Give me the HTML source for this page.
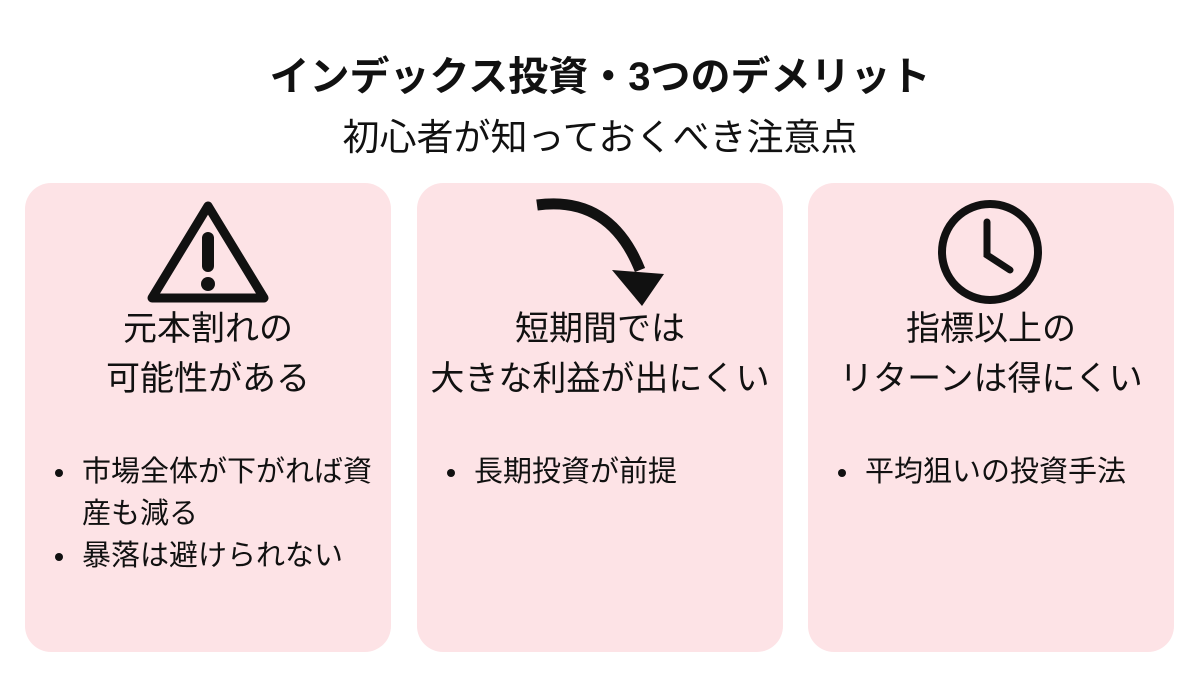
<!DOCTYPE html>
<html><head><meta charset="utf-8"><style>
body{margin:0;width:1200px;height:675px;background:#fff;font-family:"Liberation Sans","Noto Sans CJK JP",sans-serif;color:#111;position:relative;overflow:hidden}
.t{position:absolute;left:0;width:1200px;text-align:center}
.card{position:absolute;top:183px;width:366px;height:469px;background:#fde3e6;border-radius:26px}
.h{position:absolute;top:304px;width:366px;text-align:center;font-size:34px;line-height:50px}
ul{position:absolute;margin:0;padding-left:28px;font-size:29px;line-height:42px}
li{padding-left:4px}
</style></head><body>
<div class="t" style="top:44px;font-size:40px;font-weight:bold">インデックス投資・3つのデメリット</div>
<div class="t" style="top:107px;font-size:37px">初心者が知っておくべき注意点</div>
<div class="card" style="left:25px"></div>
<div class="card" style="left:417px"></div>
<div class="card" style="left:808px"></div>
<svg width="1200" height="675" style="position:absolute;left:0;top:0">
<path d="M208 206 L264 298 L152 298 Z" fill="none" stroke="#111" stroke-width="9" stroke-linejoin="round"/>
<rect x="202" y="232" width="12" height="40" rx="6" fill="#111"/>
<circle cx="208" cy="284" r="7" fill="#111"/>
<path d="M537 205 Q610 195 640 270" fill="none" stroke="#111" stroke-width="11"/>
<path d="M612 270 L664 274 L642 306 Z" fill="#111"/>
<circle cx="990" cy="252" r="48" fill="none" stroke="#111" stroke-width="8"/>
<path d="M987 222 L987 255 L1010 270" fill="none" stroke="#111" stroke-width="7" stroke-linecap="round"/>
</svg>
<div class="h" style="left:25px">元本割れの<br>可能性がある</div>
<div class="h" style="left:417px">短期間では<br>大きな利益が出にくい</div>
<div class="h" style="left:808px">指標以上の<br>リターンは得にくい</div>
<ul style="left:50px;top:451px;width:312px"><li>市場全体が下がれば資産も減る</li><li>暴落は避けられない</li></ul>
<ul style="left:442px;top:451px"><li>長期投資が前提</li></ul>
<ul style="left:833px;top:451px"><li>平均狙いの投資手法</li></ul>
</body></html>
